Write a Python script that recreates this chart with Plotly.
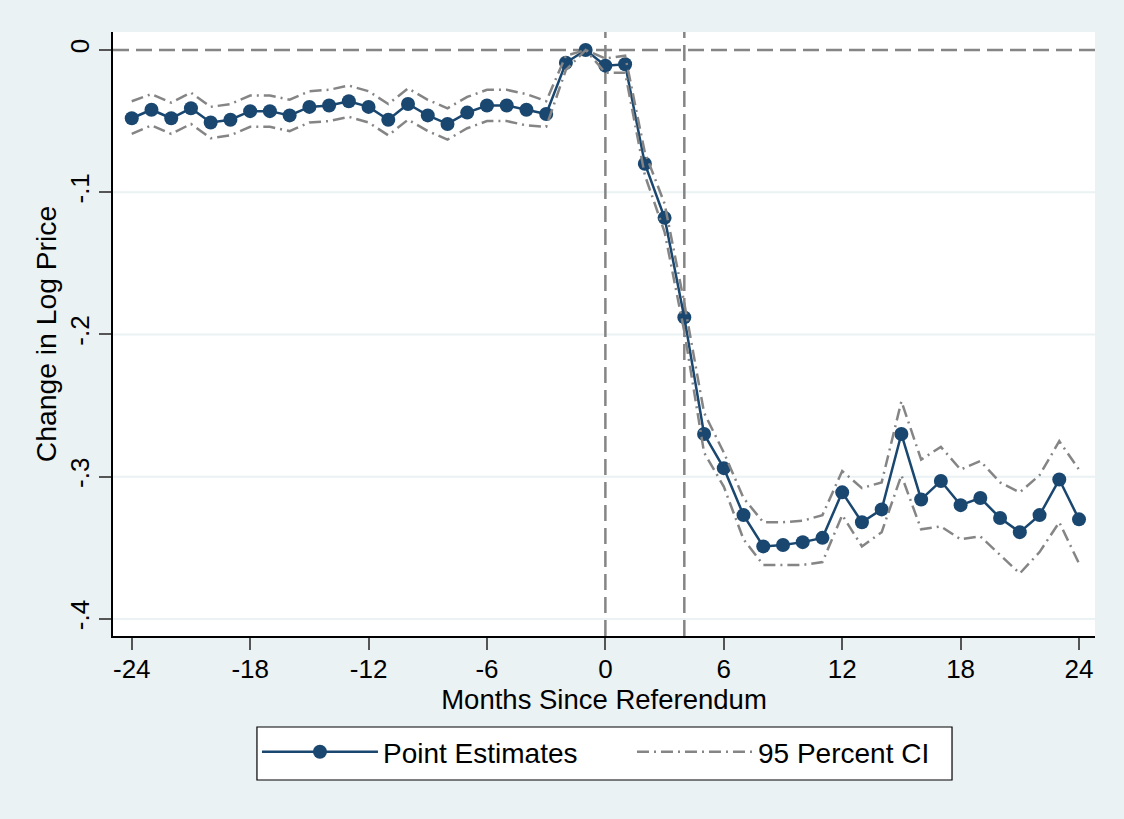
import plotly.graph_objects as go

months = list(range(-24, 25))
point_est = [
    -0.048, -0.042, -0.048, -0.041, -0.051, -0.049, -0.043, -0.043, -0.046, -0.040,
    -0.039, -0.036, -0.040, -0.049, -0.038, -0.046, -0.052, -0.044, -0.039, -0.039,
    -0.042, -0.045, -0.009, 0.000, -0.011, -0.010, -0.080, -0.118, -0.188, -0.270,
    -0.294, -0.327, -0.349, -0.348, -0.346, -0.343, -0.311, -0.332, -0.323, -0.270,
    -0.316, -0.303, -0.320, -0.315, -0.329, -0.339, -0.327, -0.302, -0.330,
]
ci_upper = [
    -0.036, -0.031, -0.037, -0.030, -0.040, -0.038, -0.032, -0.032, -0.035, -0.029,
    -0.028, -0.025, -0.029, -0.038, -0.027, -0.035, -0.041, -0.033, -0.028, -0.028,
    -0.031, -0.036, -0.004, 0.000, -0.006, -0.004, -0.072, -0.108, -0.178, -0.255,
    -0.283, -0.315, -0.332, -0.332, -0.331, -0.327, -0.296, -0.308, -0.304, -0.247,
    -0.288, -0.279, -0.295, -0.289, -0.304, -0.311, -0.299, -0.275, -0.295,
]
ci_lower = [
    -0.059, -0.053, -0.059, -0.052, -0.062, -0.060, -0.054, -0.054, -0.057, -0.051,
    -0.050, -0.047, -0.051, -0.060, -0.049, -0.057, -0.063, -0.055, -0.050, -0.050,
    -0.053, -0.054, -0.014, 0.000, -0.016, -0.016, -0.088, -0.128, -0.198, -0.283,
    -0.307, -0.344, -0.362, -0.362, -0.362, -0.360, -0.327, -0.349, -0.339, -0.299,
    -0.337, -0.335, -0.344, -0.342, -0.355, -0.368, -0.353, -0.332, -0.361,
]
x_ticks = [-24, -18, -12, -6, 0, 6, 12, 18, 24]
y_ticks = [0, -0.1, -0.2, -0.3, -0.4]
y_tick_labels = ["0", "-.1", "-.2", "-.3", "-.4"]
ref_lines_x = [0, 4]

NAVY = "#1a476f"
GRAY = "#858585"
BG = "#eaf2f3"
FONT = "Liberation Sans, Arial, sans-serif"

fig = go.Figure()

fig.add_trace(go.Scatter(
    x=months, y=point_est, mode="lines+markers", name="Point Estimates",
    line=dict(color=NAVY, width=2.5),
    marker=dict(color=NAVY, size=14, symbol="circle"),
    legend="legend",
))
fig.add_trace(go.Scatter(
    x=months, y=ci_upper, mode="lines", name="95 Percent CI",
    line=dict(color=GRAY, width=2.5, dash="12px,5px,2px,5px"),
    legendgroup="ci", showlegend=True, legend="legend2",
))
fig.add_trace(go.Scatter(
    x=months, y=ci_lower, mode="lines", name="95 Percent CI",
    line=dict(color=GRAY, width=2.5, dash="12px,5px,2px,5px"),
    legendgroup="ci", showlegend=False, legend="legend2",
))

# light horizontal gridlines (not at 0, where the dashed reference line sits)
for yv in y_ticks[1:]:
    fig.add_shape(type="line", xref="paper", yref="y", x0=0, x1=1, y0=yv, y1=yv,
                  line=dict(color=BG, width=2), layer="below")
for xv in ref_lines_x:
    fig.add_shape(type="line", xref="x", yref="paper", x0=xv, x1=xv, y0=0, y1=1,
                  line=dict(color=GRAY, width=2.5, dash="16px,7px"), layer="below")
fig.add_shape(type="line", xref="paper", yref="y", x0=0, x1=1, y0=0, y1=0,
              line=dict(color=GRAY, width=2.5, dash="16px,7px"), layer="below")

# legend frame
fig.add_shape(type="rect", xref="paper", yref="paper",
              x0=0.1466, x1=0.8544, y0=-0.2384, y1=-0.1507,
              fillcolor="white", line=dict(color="black", width=1.2), layer="above")

legend_common = dict(
    orientation="h", yanchor="top", y=-0.1507, xanchor="left",
    bgcolor="rgba(0,0,0,0)", borderwidth=0,
    font=dict(size=28, family=FONT, color="black"), itemwidth=116,
)

fig.update_layout(
    width=1124, height=819,
    paper_bgcolor=BG, plot_bgcolor="white",
    margin=dict(l=113, r=29, t=32, b=183),
    font=dict(family=FONT, size=26, color="black"),
    xaxis=dict(
        range=[-24.95, 24.81], tickvals=x_ticks, ticktext=[str(v) for v in x_ticks],
        showgrid=False, zeroline=False, showline=True, linecolor="black", linewidth=1.5,
        ticks="outside", ticklen=12, tickwidth=1.5, tickcolor="#555555",
        ticklabelstandoff=-3,
        title=dict(text="Months Since Referendum", standoff=0, font=dict(size=27.5)),
        tickfont=dict(size=26),
    ),
    yaxis=dict(
        range=[-0.412, 0.01265], tickvals=y_ticks, ticktext=y_tick_labels,
        showgrid=False, zeroline=False,
        showline=True, linecolor="black", linewidth=1.5,
        ticks="outside", ticklen=12, tickwidth=1.5, tickcolor="#555555",
        tickangle=-90,
        title=dict(text="Change in Log Price", standoff=0, font=dict(size=28.3)),
        tickfont=dict(size=26),
    ),
    legend=dict(x=0.1466, **legend_common),
    legend2=dict(x=0.5285, **legend_common),
    showlegend=True,
)

fig.write_html("out.html")
